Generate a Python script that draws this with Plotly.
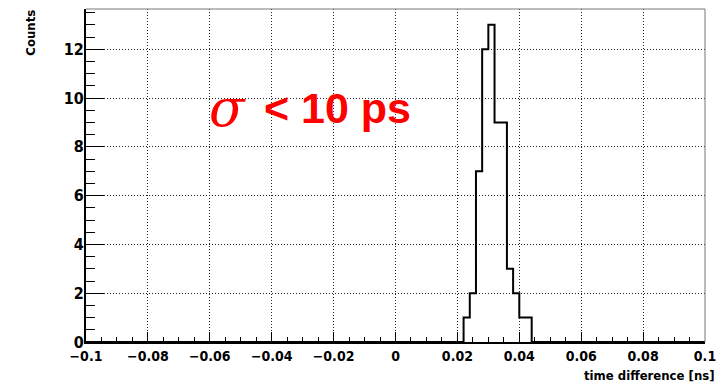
import numpy as np
import plotly.graph_objects as go

# Histogram data (time difference in ns, bin width 0.002 ns)
bin_low = [0.022, 0.024, 0.026, 0.028, 0.030, 0.032, 0.034, 0.036, 0.038, 0.040, 0.042]
counts = [1, 2, 7, 12, 13, 9, 9, 3, 2, 1, 1]
n_bins = 100
x_min, x_max = -0.1, 0.1
x_ticks = [-0.1, -0.08, -0.06, -0.04, -0.02, 0, 0.02, 0.04, 0.06, 0.08, 0.1]
x_tick_labels = ["\u22120.1", "\u22120.08", "\u22120.06", "\u22120.04", "\u22120.02", "0",
                 "0.02", "0.04", "0.06", "0.08", "0.1"]
y_ticks = [0, 2, 4, 6, 8, 10, 12]

edges = np.linspace(x_min, x_max, n_bins + 1)
full = np.zeros(n_bins)
for lo, c in zip(bin_low, counts):
    idx = int(round((lo - x_min) / (x_max - x_min) * n_bins))
    full[idx] = c
xs = list(edges)
ys = list(full) + [0]

y_max = max(counts) * 1.05

fig = go.Figure()
fig.add_trace(go.Scatter(x=xs, y=ys, mode="lines", line=dict(shape="hv", color="black", width=2),
                         hoverinfo="skip", showlegend=False))

tick_font = dict(family="DejaVu Sans Condensed", size=14, color="black", weight="bold")
ytick_font = dict(family="DejaVu Sans Condensed", size=16, color="black", weight="bold")
title_font = dict(family="DejaVu Sans Condensed", size=13, color="black", weight="bold")
grid_dash = "1px,2px"

fig.update_layout(
    width=720, height=382,
    margin=dict(l=86, r=15, t=9, b=40, autoexpand=False),
    paper_bgcolor="white", plot_bgcolor="white",
    showlegend=False,
    xaxis=dict(range=[x_min, x_max], tickvals=x_ticks, ticktext=x_tick_labels,
               ticks="inside", ticklen=10, tickwidth=1, tickcolor="black",
               showline=True, linecolor="black", linewidth=2,
               showgrid=True, gridcolor="#222222", griddash=grid_dash, gridwidth=1,
               zeroline=False, tickfont=tick_font, automargin=False,
               minor=dict(dtick=0.005, tick0=0, ticks="inside", ticklen=5, tickcolor="black", showgrid=False)),
    yaxis=dict(range=[0, y_max], tickvals=y_ticks,
               ticks="inside", ticklen=18, tickwidth=1, tickcolor="black",
               showline=True, linecolor="black", linewidth=2,
               showgrid=True, gridcolor="#222222", griddash=grid_dash, gridwidth=1,
               zeroline=False, tickfont=ytick_font, automargin=False, ticklabelstandoff=-3,
               minor=dict(dtick=0.5, tick0=0, ticks="inside", ticklen=9, tickcolor="black", showgrid=False)),
)

# top/right frame lines
fig.add_shape(type="line", xref="paper", yref="paper", x0=0, x1=1, y0=1, y1=1,
              line=dict(color="#777777", width=1))
fig.add_shape(type="line", xref="paper", yref="paper", x0=1, x1=1, y0=0, y1=1,
              line=dict(color="#777777", width=1))

# axis titles
fig.add_annotation(text="Counts", xref="paper", yref="paper", x=-0.09, y=1.005, xanchor="center",
                   yanchor="top", textangle=-90, showarrow=False, font=title_font)
fig.add_annotation(text="time difference [ns]", xref="paper", yref="paper", x=1.02, y=-0.072,
                   xanchor="right", yanchor="top", showarrow=False, font=title_font)

# sigma label
red_font = dict(family="Liberation Sans", size=43, color="#ff0000", weight="bold")
sigma_font = dict(family="DejaVu Serif", size=52, color="#ff0000")
fig.add_annotation(text="<i>\u03c3</i>", x=-0.0610, y=9.6, xref="x", yref="y", xanchor="left",
                   yanchor="middle", showarrow=False, font=sigma_font)
fig.add_annotation(text="< 10 ps", x=-0.0430, y=9.6, xref="x", yref="y", xanchor="left",
                   yanchor="middle", showarrow=False, font=red_font)

fig.write_html("out.html", config={"displayModeBar": False},
               post_script="document.body.style.margin='0';document.body.style.overflow='hidden';")
